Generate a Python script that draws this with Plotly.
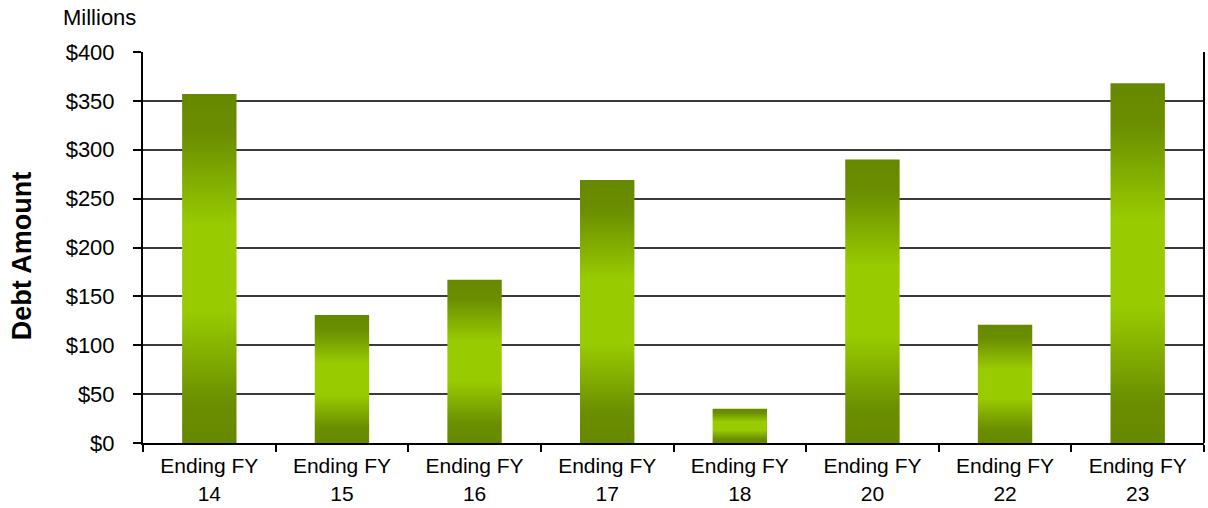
import plotly.graph_objects as go

# Debt amount (in millions of dollars) for each fiscal-year ending
categories = ["Ending FY<br>14", "Ending FY<br>15", "Ending FY<br>16", "Ending FY<br>17",
              "Ending FY<br>18", "Ending FY<br>20", "Ending FY<br>22", "Ending FY<br>23"]
debt_millions = [357, 131, 167, 269, 35, 290, 121, 368]
y_ticks = [0, 50, 100, 150, 200, 250, 300, 350, 400]
y_tick_labels = ["$0", "$50", "$100", "$150", "$200", "$250", "$300", "$350", "$400"]

BAR_WIDTH = 0.41
DARK = "#668800"
BRIGHT = "#99cc00"
gradient = [[0.0, DARK], [0.12, "#6b8f00"], [0.38, BRIGHT], [0.62, BRIGHT],
            [0.88, "#6b8f00"], [1.0, DARK]]

fig = go.Figure()

# each column is a filled polygon so it can carry a vertical colour gradient
for i, v in enumerate(debt_millions):
    x0, x1 = i - BAR_WIDTH / 2, i + BAR_WIDTH / 2
    fig.add_trace(go.Scatter(
        x=[x0, x1, x1, x0, x0],
        y=[0, 0, v, v, 0],
        mode="lines",
        fill="toself",
        line=dict(width=0),
        fillgradient=dict(type="vertical", colorscale=gradient),
        hoverinfo="text",
        text=f"${v}M",
        showlegend=False,
    ))

font = "Liberation Sans, Arial, sans-serif"

fig.update_layout(
    width=1208, height=508,
    margin=dict(l=143, r=4, t=52, b=65),
    paper_bgcolor="white", plot_bgcolor="white",
    font=dict(family=font, size=22, color="black"),
    xaxis=dict(
        range=[-0.5, 7.5],
        tickmode="array",
        tickvals=list(range(len(categories))),
        ticktext=categories,
        ticks="", showgrid=False, zeroline=False,
        showline=True, linecolor="black", linewidth=2,
        minor=dict(tickmode="array",
                   tickvals=[k - 0.5 for k in range(len(categories) + 1)],
                   ticks="outside", ticklen=7, tickwidth=2, tickcolor="black",
                   showgrid=False),
        tickfont=dict(size=21),
        ticklabelstandoff=3,
        automargin=False,
        fixedrange=True,
    ),
    yaxis=dict(
        range=[0, 400],
        tickmode="array",
        tickvals=y_ticks,
        ticktext=y_tick_labels,
        ticks="outside", ticklen=8, tickwidth=2, tickcolor="black",
        showgrid=True, gridcolor="#3a3a3a", gridwidth=2,
        zeroline=False,
        showline=True, linecolor="black", linewidth=2,
        tickfont=dict(size=22),
        ticklabelstandoff=14,
        automargin=False,
        fixedrange=True,
    ),
    annotations=[
        dict(text="Millions", xref="paper", yref="paper", x=-0.077, y=1.0,
             xanchor="left", yanchor="bottom", yshift=20, showarrow=False,
             font=dict(family=font, size=22)),
        dict(text="<b>Debt Amount</b>", xref="paper", yref="paper", x=-0.114, y=0.478,
             xanchor="center", yanchor="middle", textangle=-90, showarrow=False,
             font=dict(family=font, size=27)),
    ],
    shapes=[
        # right-hand border of the plot area
        dict(type="line", xref="paper", yref="paper", x0=1, x1=1, y0=0, y1=1,
             line=dict(color="black", width=2)),
    ],
)

fig.write_html("out.html")
